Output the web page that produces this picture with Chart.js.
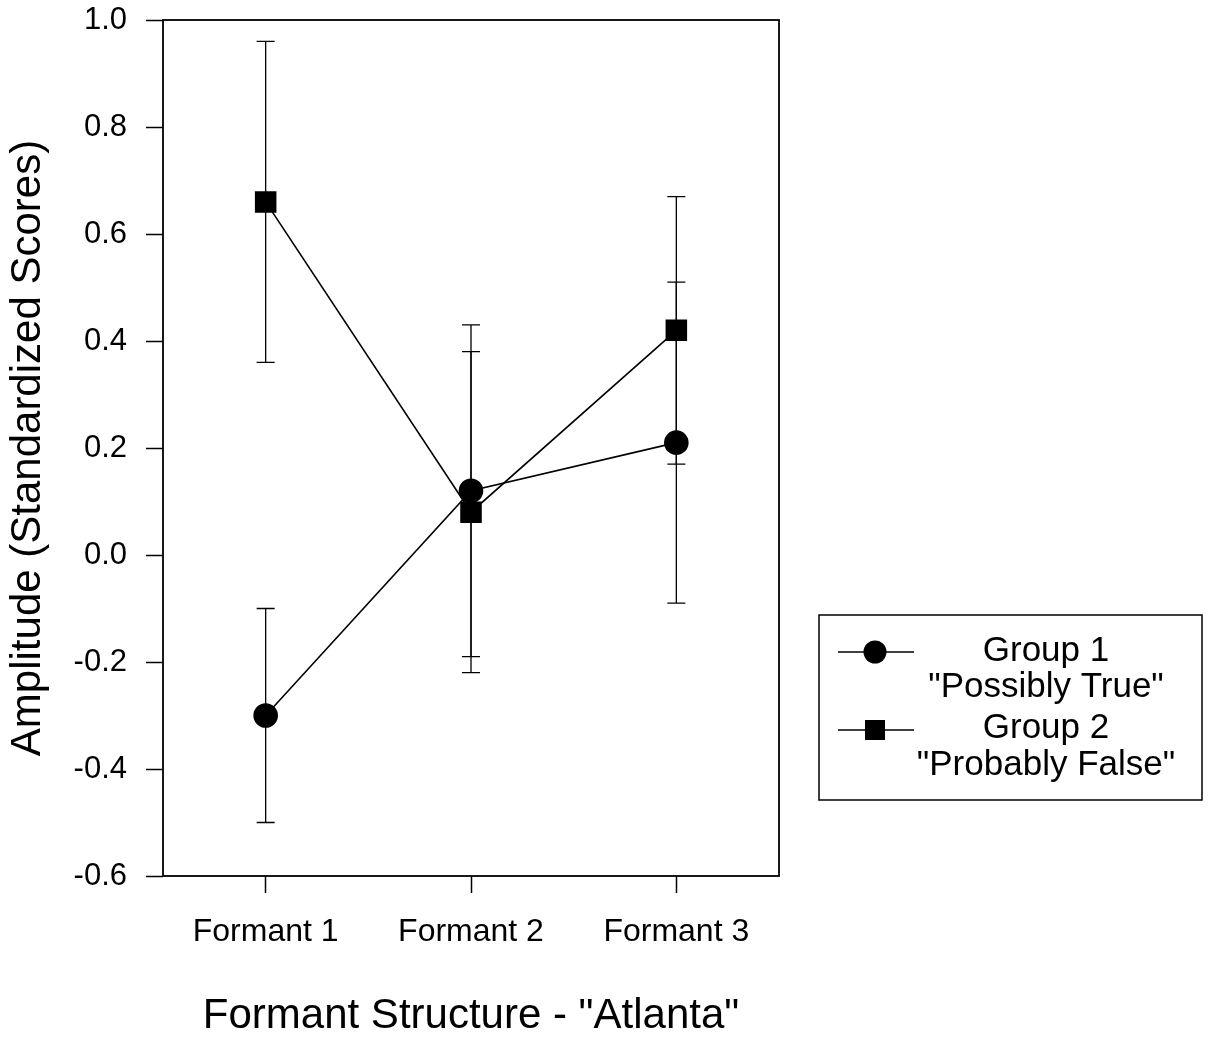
<!DOCTYPE html>
<html>
<head>
<meta charset="utf-8">
<title>Formant Structure - "Atlanta"</title>
<script src="https://cdn.jsdelivr.net/npm/chart.js@4.4.1/dist/chart.umd.min.js"></script>
<style>
  html, body { margin: 0; padding: 0; background: #fff; }
  #wrap { width: 1209px; height: 1037px; position: relative; }
</style>
</head>
<body>
<div id="wrap"><canvas id="chart"></canvas></div>
<script>
// values
const categories = ["Formant 1", "Formant 2", "Formant 3"];
const group1Mean  = [-0.30, 0.12, 0.21];
const group1Upper = [-0.10, 0.43, 0.51];
const group1Lower = [-0.50, -0.19, -0.09];
const group2Mean  = [0.66, 0.08, 0.42];
const group2Upper = [0.96, 0.38, 0.67];
const group2Lower = [0.36, -0.22, 0.17];
const legendLabels = [["Group 1", "\"Possibly True\""], ["Group 2", "\"Probably False\""]];

const FONT = "'Liberation Sans', Arial, Helvetica, sans-serif";
Chart.defaults.font.family = FONT;
Chart.defaults.color = "#000";

// error bars under the markers
const errorBars = {
  id: "errorBars",
  beforeDatasetsDraw(chart) {
    const { ctx, scales: { y } } = chart;
    ctx.save();
    ctx.strokeStyle = "#000";
    ctx.lineWidth = 1.3;
    chart.data.datasets.forEach((ds, i) => {
      const meta = chart.getDatasetMeta(i);
      meta.data.forEach((pt, j) => {
        const yTop = y.getPixelForValue(ds.upper[j]);
        const yBot = y.getPixelForValue(ds.lower[j]);
        ctx.beginPath();
        ctx.moveTo(pt.x, yTop); ctx.lineTo(pt.x, yBot);
        ctx.moveTo(pt.x - 9, yTop); ctx.lineTo(pt.x + 9, yTop);
        ctx.moveTo(pt.x - 9, yBot); ctx.lineTo(pt.x + 9, yBot);
        ctx.stroke();
      });
    });
    ctx.restore();
  }
};

// plot frame + legend box on the right
const frameAndLegend = {
  id: "frameAndLegend",
  afterDraw(chart) {
    const { ctx, chartArea: a } = chart;
    ctx.save();
    ctx.strokeStyle = "#000";
    ctx.lineWidth = 1.8;
    ctx.strokeRect(a.left, a.top, a.right - a.left, a.bottom - a.top);

    // legend
    ctx.lineWidth = 1.5;
    ctx.strokeRect(819, 615, 383, 185);
    const rows = [652, 730];
    const textY = [[651, 687], [728, 765]];
    chart.data.datasets.forEach((ds, i) => {
      const ly = rows[i];
      ctx.beginPath();
      ctx.moveTo(838, ly); ctx.lineTo(914, ly);
      ctx.lineWidth = 1.5;
      ctx.stroke();
      ctx.fillStyle = "#000";
      ctx.beginPath();
      if (ds.pointStyle === "circle") {
        ctx.arc(875, ly, 11.5, 0, Math.PI * 2);
      } else {
        ctx.rect(865, ly - 10, 20, 20);
      }
      ctx.fill();
      ctx.font = "35px " + FONT;
      ctx.textAlign = "center";
      ctx.textBaseline = "middle";
      legendLabels[i].forEach((t, k) => ctx.fillText(t, 1046, textY[i][k]));
    });
    ctx.restore();
  }
};

new Chart(document.getElementById("chart"), {
  type: "line",
  data: {
    labels: categories,
    datasets: [
      { label: "Group 1 \"Possibly True\"", data: group1Mean, upper: group1Upper, lower: group1Lower,
        borderColor: "#000", backgroundColor: "#000", borderWidth: 1.6,
        pointStyle: "circle", pointRadius: 11.5, pointHoverRadius: 11.5, tension: 0 },
      { label: "Group 2 \"Probably False\"", data: group2Mean, upper: group2Upper, lower: group2Lower,
        borderColor: "#000", backgroundColor: "#000", borderWidth: 1.6,
        pointStyle: "rect", pointRadius: 14.1, pointHoverRadius: 14.1, tension: 0 },
    ],
  },
  options: {
    responsive: true, maintainAspectRatio: false, animation: false,
    layout: { padding: { top: 20, right: 430, left: 0, bottom: 0 } },
    plugins: { legend: { display: false }, tooltip: { enabled: false } },
    scales: {
      x: {
        type: "category", offset: true,
        grid: { drawOnChartArea: false, drawTicks: true, tickLength: 17, tickWidth: 1.5, tickColor: "#000", offset: false },
        border: { display: false },
        ticks: { font: { size: 32 }, padding: 20, maxRotation: 0 },
        title: { display: true, text: "Formant Structure - \"Atlanta\"", font: { size: 42, lineHeight: 1 }, padding: 0 },
        afterFit(s) { s.height = 161; s.paddingLeft = 0; s.paddingRight = 0; },
      },
      y: {
        min: -0.6, max: 1.0,
        grid: { drawOnChartArea: false, drawTicks: true, tickLength: 17, tickWidth: 1.5, tickColor: "#000" },
        border: { display: false },
        ticks: { stepSize: 0.2, font: { size: 31 }, padding: 19,
          callback: v => (Math.abs(v) < 1e-9 ? 0 : v).toFixed(1) },
        title: { display: true, text: "Amplitude (Standardized Scores)", font: { size: 42, lineHeight: 1.2 }, padding: { top: 3, bottom: 0 } },
        afterFit(s) { s.width = 163; s.paddingTop = 0; s.paddingBottom = 0; },
      },
    },
  },
  plugins: [errorBars, frameAndLegend],
});
</script>
</body>
</html>
